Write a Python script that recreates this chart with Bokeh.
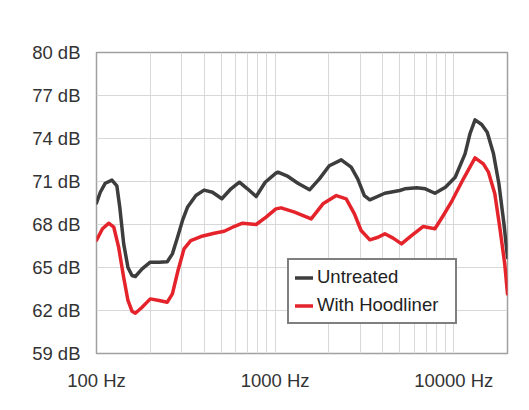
from bokeh.plotting import figure
from bokeh.models import FixedTicker, PrintfTickFormatter, Range1d, Legend, LegendItem
from bokeh.embed import file_html
from bokeh.resources import INLINE

# Frequencies (Hz) and levels (dB)
untreated_freq = [100, 105, 112, 122, 130, 135, 142, 150, 158, 165, 180, 200, 224, 249, 266,
                  284, 303, 323, 360, 400, 446, 503, 566, 631, 700, 783, 880, 1010, 1037,
                  1181, 1341, 1559, 1770, 2010, 2346, 2665, 2900, 3160, 3390, 4113, 4986,
                  5324, 6216, 6926, 7850, 8980, 10190, 11570, 12330, 13160, 14340, 15400,
                  16700, 17900, 19100, 20000]
untreated_db = [69.5, 70.25, 70.88, 71.1, 70.7, 69.2, 66.65, 65.0, 64.44, 64.37, 64.9, 65.37,
                65.37, 65.4, 65.95, 67.1, 68.28, 69.2, 70.02, 70.4, 70.25, 69.8, 70.49, 70.95,
                70.49, 69.95, 70.95, 71.58, 71.65, 71.35, 70.88, 70.42, 71.18, 72.1, 72.51,
                72.0, 71.18, 70.02, 69.72, 70.18, 70.37, 70.49, 70.56, 70.49, 70.18, 70.6,
                71.3, 72.93, 74.33, 75.3, 74.98, 74.44, 72.93, 70.84, 68.05, 65.7]

hoodliner_freq = [100, 108, 117, 125, 133, 142, 150, 158, 165, 180, 200, 224, 249, 266, 286,
                  309, 337, 384, 456, 519, 589, 657, 783, 890, 1010, 1081, 1285, 1592, 1853,
                  2201, 2500, 2780, 3030, 3390, 3770, 4113, 4580, 5100, 5800, 6730, 7850,
                  8740, 9800, 11330, 13160, 14650, 15650, 16980, 18100, 19300, 20000]
hoodliner_db = [66.9, 67.7, 68.09, 67.81, 66.42, 64.3, 62.7, 61.95, 61.81, 62.23, 62.81, 62.7,
                62.58, 63.16, 64.79, 66.3, 66.88, 67.16, 67.39, 67.53, 67.86, 68.09, 68.0,
                68.51, 69.09, 69.16, 68.86, 68.39, 69.44, 70.02, 69.79, 68.74, 67.58, 66.93,
                67.11, 67.35, 67.05, 66.65, 67.23, 67.86, 67.7, 68.63, 69.67, 71.19, 72.65,
                72.23, 71.65, 70.14, 67.81, 65.25, 63.16]

y_ticks = [59, 62, 65, 68, 71, 74, 77, 80]
x_major = [100, 1000, 10000]
x_minor = [200, 300, 400, 500, 600, 700, 800, 900,
           2000, 3000, 4000, 5000, 6000, 7000, 8000, 9000]
series_labels = ["Untreated", "With Hoodliner"]

FONT = "Liberation Sans"

p = figure(width=521, height=402, x_axis_type="log", output_backend="svg",
           toolbar_location=None,
           x_range=Range1d(100, 20000), y_range=Range1d(59, 80),
           min_border_left=96, min_border_right=14, min_border_top=52, min_border_bottom=49)
p.border_fill_color = "white"
p.background_fill_color = "white"
p.outline_line_color = "#a0a0a0"
p.outline_line_width = 1.5

p.xaxis.ticker = FixedTicker(ticks=x_major, minor_ticks=x_minor)
p.yaxis.ticker = FixedTicker(ticks=y_ticks)
p.xaxis.formatter = PrintfTickFormatter(format="%d Hz")
p.yaxis.formatter = PrintfTickFormatter(format="%d dB")

for ax in (p.xaxis[0], p.yaxis[0]):
    ax.axis_line_color = None
    ax.major_tick_line_color = None
    ax.minor_tick_line_color = None
    ax.major_tick_out = 0
    ax.major_tick_in = 0
    ax.minor_tick_out = 0
    ax.minor_tick_in = 0
    ax.major_label_standoff = 16
    ax.major_label_text_font = FONT
    ax.major_label_text_font_size = "18.5px"
    ax.major_label_text_color = "#333333"

p.xgrid.grid_line_color = "#d8d8d8"
p.xgrid.minor_grid_line_color = "#d8d8d8"
p.ygrid.grid_line_color = "#d8d8d8"
p.xgrid.grid_line_width = 1
p.ygrid.grid_line_width = 1

r1 = p.line(untreated_freq, untreated_db, line_color="#3d3d3d", line_width=3.5,
            line_join="round", line_cap="round")
r2 = p.line(hoodliner_freq, hoodliner_db, line_color="#e5232b", line_width=3.5,
            line_join="round", line_cap="round")

legend = Legend(items=[LegendItem(label=series_labels[0], renderers=[r1]),
                       LegendItem(label=series_labels[1], renderers=[r2])],
                location=(191, 29))
legend.border_line_color = "black"
legend.border_line_width = 2
legend.background_fill_color = "white"
legend.background_fill_alpha = 1
legend.label_text_font = FONT
legend.label_text_font_size = "18.5px"
legend.label_text_color = "#222222"
legend.glyph_width = 18
legend.glyph_height = 21
legend.label_height = 21
legend.label_standoff = 4
legend.label_width = 132
legend.padding = 6
legend.spacing = 6
legend.margin = 0
p.add_layout(legend)

open("out.html", "w").write(file_html(p, INLINE))
